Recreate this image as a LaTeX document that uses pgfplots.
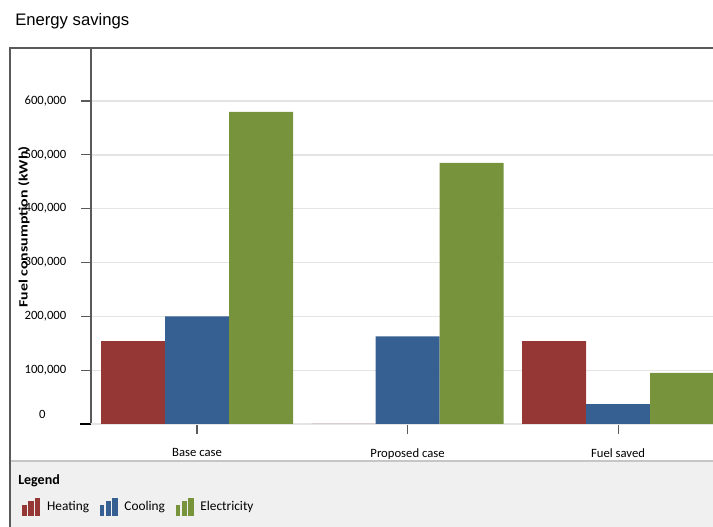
\documentclass[border=0pt]{standalone}
\usepackage{graphicx}
\usepackage{pgfplots}
\pgfplotsset{compat=1.18}
\usepackage{fontspec}
\setmainfont{Carlito}
\newfontfamily\titlefont{Liberation Sans}
\definecolor{heat}{HTML}{953735}
\definecolor{cool}{HTML}{376092}
\definecolor{elec}{HTML}{77933C}
\definecolor{legbg}{HTML}{F0F0F0}
\definecolor{framec}{HTML}{5A5A5A}
\definecolor{gridc}{HTML}{E4E4E4}
\begin{document}
\begin{tikzpicture}[x=0.75pt,y=0.75pt]
\path[use as bounding box, clip] (0,0) rectangle (713,527);
\fill[legbg] (10,0) rectangle (713,66);
\draw[line width=1pt, gray!45] (10,66) -- (713,66);
\draw[line width=1.3pt, framec] (10,0) -- (10,479) -- (713,479);
\node[anchor=base west, inner sep=0pt, font=\titlefont\fontsize{12.5}{14}\selectfont] at (15,501) {Energy savings};
\node[anchor=west, inner sep=0pt, font=\bfseries\fontsize{10.5}{12}\selectfont] at (18,46) {Legend};
\draw[line width=1.2pt, black] (80,103) -- (92,103);
\begin{axis}[
  at={(68.25pt,77.25pt)}, anchor=south west, scale only axis,
  width=466.5pt, height=282.6pt,
  xmin=-0.5036, xmax=2.451, ymin=0, ymax=700000,
  ybar=0pt, bar width=0.304,
  axis x line*=bottom, axis y line*=left,
  x axis line style={black, line width=1.2pt},
  y axis line style={framec, line width=1pt},
  xtick={0,1,2}, xticklabels={Base case, Proposed case, Fuel saved},
  ytick={100000,200000,300000,400000,500000,600000},
  extra y ticks={0},
  extra y tick style={major tick length=0pt, yticklabel style={xshift=-23pt, yshift=7.5pt}},
  scaled y ticks=false,
  /pgf/number format/fixed,
  /pgf/number format/1000 sep={,},
  /pgf/number format/assume math mode=true,
  ymajorgrids, grid style={gridc, line width=1pt},
  tick align=outside, major tick length=7.5pt,
  tick style={framec, line width=0.8pt},
  tick label style={font=\fontsize{9.5}{11}\selectfont},
  yticklabel style={anchor=east, xshift=-7.5pt},
  xticklabel style={yshift=-7.5pt},
  every axis y label/.style={at={(axis description cs:-0.108,0.523)}, rotate=90, anchor=center,
    font=\bfseries\fontsize{9.5}{11}\selectfont, inner sep=0pt},
  ylabel={\scalebox{1.25}[1]{Fuel consumption (kWh)}},
  legend style={at={(axis description cs:-0.117,-0.220)}, anchor=west, draw=none, fill=none,
    font=\fontsize{10}{11}\selectfont,
    /tikz/every odd column/.append style={column sep=3pt},
    /tikz/every even column/.append style={column sep=6pt}},
  legend columns=3, legend cell align=left,
  legend image code/.code={
    \fill (0pt,-6.5pt) rectangle (3.5pt,1.5pt);
    \fill (4.5pt,-6.5pt) rectangle (8.5pt,5pt);
    \fill (9.5pt,-6.5pt) rectangle (13.5pt,7pt);
  },
]
\addplot[fill=heat, draw=none] coordinates {(0,154000) (1,0) (2,154000)};
\addplot[fill=cool, draw=none] coordinates {(0,200000) (1,163000) (2,37000)};
\addplot[fill=elec, draw=none] coordinates {(0,580000) (1,485000) (2,95000)};
\legend{Heating, Cooling, Electricity}
\end{axis}
\end{tikzpicture}
\end{document}
